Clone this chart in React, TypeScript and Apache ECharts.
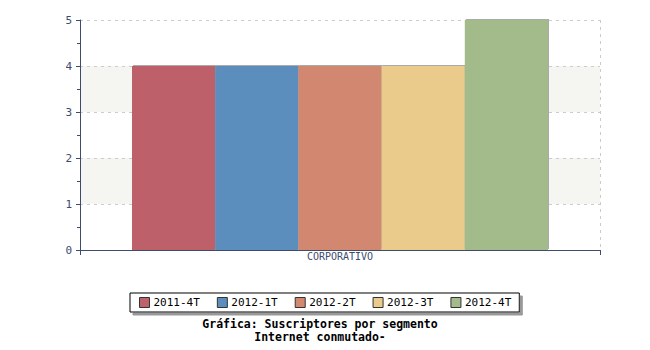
import React, { useEffect, useRef } from "react";
import * as echarts from "echarts";

const categories = ["CORPORATIVO"];
const seriesNames = ["2011-4T", "2012-1T", "2012-2T", "2012-3T", "2012-4T"];
const seriesValues = [[4], [4], [4], [4], [5]];
const seriesColors = ["#bd616a", "#5b8ebd", "#d2876f", "#eacb8b", "#a3bb8b"];
const titleLines = ["Gráfica: Suscriptores por segmento", "Internet conmutado-"];

const FONT = "DejaVu Sans Mono";
const AXIS_COLOR = "#3d4b6e";

export default function App() {
  const ref = useRef<HTMLDivElement>(null);
  useEffect(() => {
    if (!ref.current) return;
    const chart = echarts.init(ref.current, undefined, { renderer: "svg" });
    chart.setOption({
      animation: false,
      backgroundColor: "#ffffff",
      title: {
        text: titleLines.join("\n"),
        left: 320,
        top: 317,
        textAlign: "center",
        padding: 0,
        textStyle: {
          fontFamily: FONT,
          fontSize: 11.5,
          fontWeight: "bold",
          color: "#000",
          lineHeight: 13,
        },
      },
      legend: {
        data: seriesNames,
        left: 130,
        top: 293,
        padding: [4, 8, 4, 9],
        itemWidth: 10,
        itemHeight: 10,
        itemGap: 17,
        icon: "rect",
        backgroundColor: "#ffffff",
        borderColor: "#000",
        borderWidth: 1,
        borderRadius: 0,
        shadowColor: "#999",
        shadowOffsetX: 3,
        shadowOffsetY: 3,
        shadowBlur: 0,
        itemStyle: { borderColor: "#333", borderWidth: 1 },
        textStyle: { fontFamily: FONT, fontSize: 11, color: "#000", padding: [0, 0, 0, -1] },
      },
      grid: { left: 80, right: 50, top: 20, bottom: 100, containLabel: false },
      xAxis: {
        type: "category",
        data: categories,
        axisLine: { lineStyle: { color: AXIS_COLOR, width: 1 } },
        axisTick: { show: true, length: 5, lineStyle: { color: AXIS_COLOR } },
        axisLabel: { fontFamily: FONT, fontSize: 10, color: AXIS_COLOR, margin: 1 },
        splitLine: { show: true, lineStyle: { color: "#cccccc", type: [3, 4] } },
      },
      yAxis: {
        type: "value",
        min: 0,
        max: 5,
        interval: 1,
        axisLine: { show: true, lineStyle: { color: AXIS_COLOR, width: 1 } },
        axisTick: { show: true, length: 4, lineStyle: { color: AXIS_COLOR } },
        minorTick: { show: true, splitNumber: 2, length: 3, lineStyle: { color: AXIS_COLOR } },
        axisLabel: { fontFamily: FONT, fontSize: 11, color: AXIS_COLOR, margin: 8 },
        splitLine: { show: true, lineStyle: { color: "#cccccc", type: [3, 4] } },
        splitArea: { show: true, areaStyle: { color: ["#ffffff", "#f5f5f2"] } },
      },
      series: seriesNames.map((name, i) => ({
        name,
        type: "bar",
        data: seriesValues[i],
        barGap: "0%",
        barCategoryGap: "20%",
        itemStyle: {
          color: seriesColors[i],
          shadowColor: "#aaaaaa",
          shadowOffsetX: 1,
          shadowOffsetY: -1,
          shadowBlur: 0,
        },
      })),
    });
    return () => chart.dispose();
  }, []);
  return <div ref={ref} style={{ width: 650, height: 350, margin: -8 }} />;
}
